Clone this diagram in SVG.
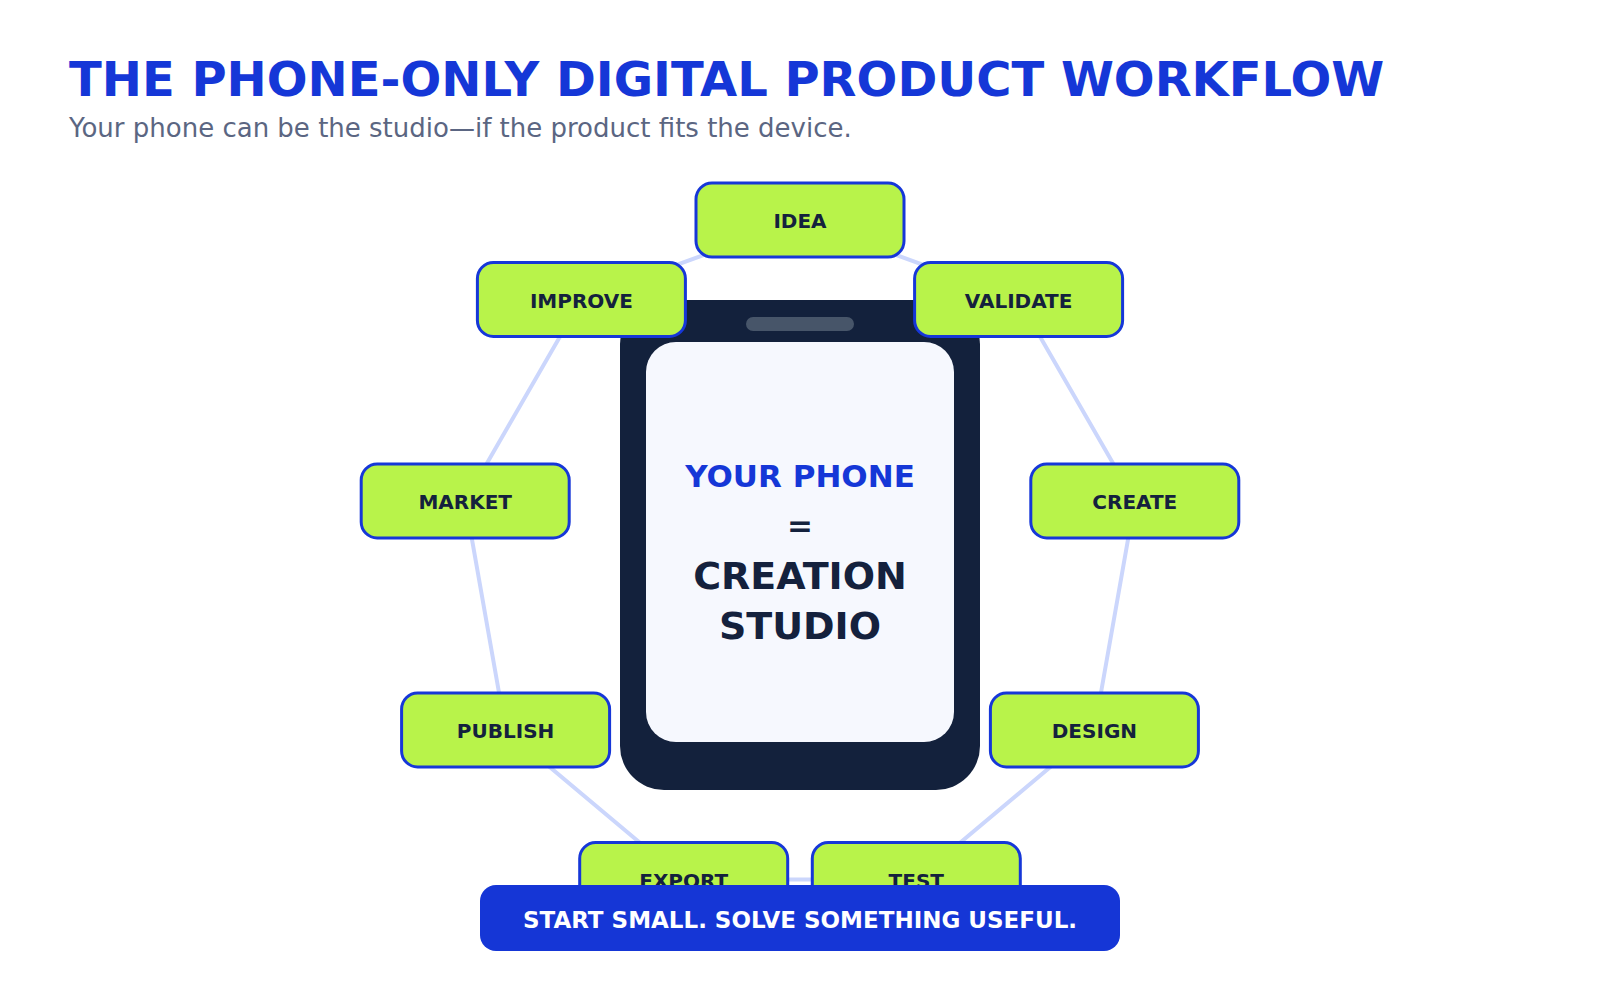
<svg xmlns="http://www.w3.org/2000/svg" width="1600" height="1000" viewBox="0 0 1600 1000">
<style>
.node rect{fill:#b8f34a;stroke:#1637d8;stroke-width:3}
.node text{font-family:"DejaVu Sans",sans-serif;font-weight:bold;font-size:20px;fill:#14213d;text-anchor:middle}
.conn line{stroke:#cbd6fc;stroke-width:4;stroke-linecap:round}
</style>
<rect width="1600" height="1000" fill="#ffffff"/>
<text x="69" y="96" font-family="DejaVu Sans, sans-serif" font-weight="bold" font-size="48" fill="#1537d7">THE PHONE-ONLY DIGITAL PRODUCT WORKFLOW</text>
<text x="69" y="137" font-family="DejaVu Sans, sans-serif" font-size="26" fill="#5b6682">Your phone can be the studio—if the product fits the device.</text>
<g id="connectors" class="conn">
<line x1="800" y1="220" x2="1018.6" y2="299.5"/>
<line x1="1018.6" y1="299.5" x2="1134.8" y2="501"/>
<line x1="1134.8" y1="501" x2="1094.4" y2="730"/>
<line x1="1094.4" y1="730" x2="916.3" y2="879.5"/>
<line x1="916.3" y1="879.5" x2="683.7" y2="879.5"/>
<line x1="683.7" y1="879.5" x2="505.6" y2="730"/>
<line x1="505.6" y1="730" x2="465.2" y2="501"/>
<line x1="465.2" y1="501" x2="581.4" y2="299.5"/>
<line x1="581.4" y1="299.5" x2="800" y2="220"/>
</g>
<g id="phone">
<rect x="620" y="300" width="360" height="490" rx="44" fill="#13213c"/>
<rect x="746" y="317" width="108" height="14" rx="7" fill="#475569"/>
<rect x="646" y="342" width="308" height="400" rx="30" fill="#f6f8fe"/>
<text x="800" y="487" text-anchor="middle" font-family="DejaVu Sans, sans-serif" font-weight="bold" font-size="31" fill="#1537d7">YOUR PHONE</text>
<text x="800" y="536" text-anchor="middle" font-family="DejaVu Sans, sans-serif" font-weight="bold" font-size="31" fill="#14213d">=</text>
<text x="800" y="589" text-anchor="middle" font-family="DejaVu Sans, sans-serif" font-weight="bold" font-size="38" fill="#14213d">CREATION</text>
<text x="800" y="639" text-anchor="middle" font-family="DejaVu Sans, sans-serif" font-weight="bold" font-size="38" fill="#14213d">STUDIO</text>
</g>
<g id="node-idea" class="node"><rect x="696" y="183" width="208" height="74" rx="16"/><text x="800" y="228">IDEA</text></g>
<g id="node-validate" class="node"><rect x="914.6" y="262.5" width="208" height="74" rx="16"/><text x="1018.6" y="307.5">VALIDATE</text></g>
<g id="node-create" class="node"><rect x="1030.8" y="464" width="208" height="74" rx="16"/><text x="1134.8" y="509">CREATE</text></g>
<g id="node-design" class="node"><rect x="990.4" y="693" width="208" height="74" rx="16"/><text x="1094.4" y="738">DESIGN</text></g>
<g id="node-test" class="node"><rect x="812.3" y="842.5" width="208" height="74" rx="16"/><text x="916.3" y="887.5">TEST</text></g>
<g id="node-export" class="node"><rect x="579.7" y="842.5" width="208" height="74" rx="16"/><text x="683.7" y="887.5">EXPORT</text></g>
<g id="node-publish" class="node"><rect x="401.6" y="693" width="208" height="74" rx="16"/><text x="505.6" y="738">PUBLISH</text></g>
<g id="node-market" class="node"><rect x="361.2" y="464" width="208" height="74" rx="16"/><text x="465.2" y="509">MARKET</text></g>
<g id="node-improve" class="node"><rect x="477.4" y="262.5" width="208" height="74" rx="16"/><text x="581.4" y="307.5">IMPROVE</text></g>
<g id="banner">
<rect x="480" y="885" width="640" height="66" rx="16" fill="#1536d6"/>
<text x="800" y="928" text-anchor="middle" font-family="DejaVu Sans, sans-serif" font-weight="bold" font-size="23" fill="#ffffff">START SMALL. SOLVE SOMETHING USEFUL.</text>
</g>
</svg>
